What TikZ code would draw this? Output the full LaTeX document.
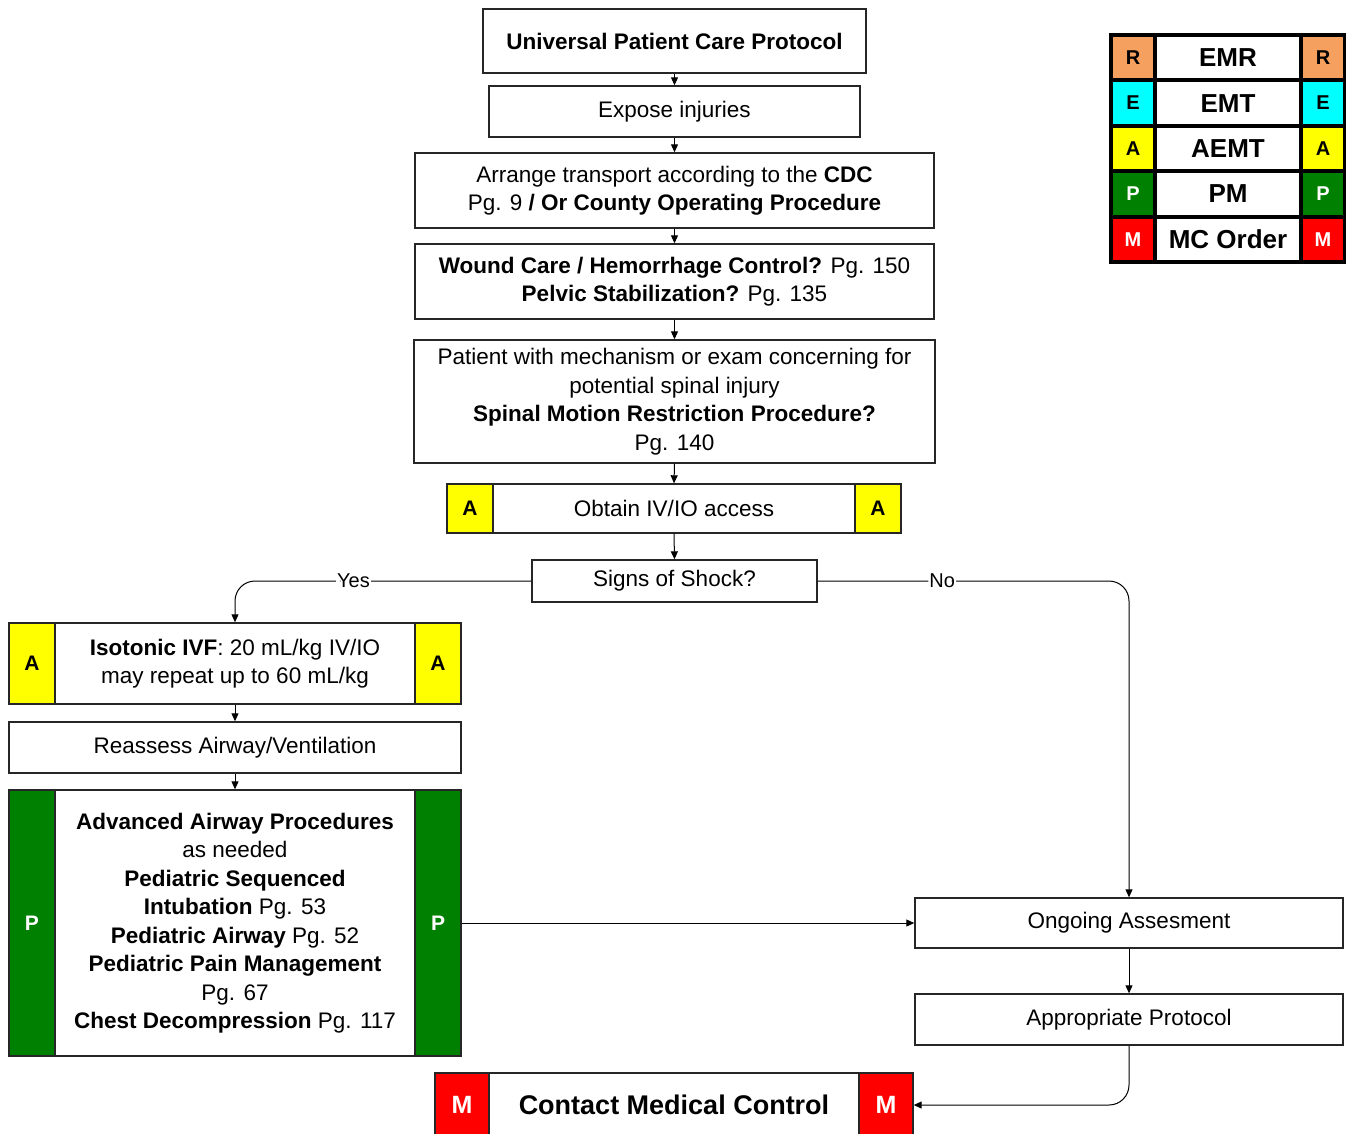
\documentclass[tikz,border=0pt]{standalone}
\usepackage{fontspec}
\setmainfont{Liberation Sans}
\usetikzlibrary{arrows.meta}
\definecolor{aY}{RGB}{255,255,0}
\definecolor{pG}{RGB}{0,128,0}
\definecolor{mR}{RGB}{255,0,0}
\definecolor{rO}{RGB}{245,160,95}
\definecolor{eC}{RGB}{0,255,255}
\begin{document}
\begin{tikzpicture}[x=1pt,y=-1pt,
  box/.style={draw=black!85, line width=1.4pt, fill=white, align=center, inner sep=0pt, font=\fontsize{22.5}{28.5}\selectfont},
  cell/.style={draw=black!85, line width=1.4pt, inner sep=0pt, font=\bfseries\fontsize{21}{25}\selectfont},
  conn/.style={line width=1pt, -{Triangle[length=8pt,width=7pt]}},
  lbl/.style={fill=white, inner sep=1pt, font=\fontsize{20}{24}\selectfont},
  leg/.style={draw=black, line width=4pt, inner sep=0pt, minimum height=45.4, font=\bfseries\fontsize{20}{24}\selectfont},
]
\useasboundingbox (0,0) rectangle (1346,1133);
\fill[white] (0,0) rectangle (1346,1133);

% main column
\node[box, minimum width=383, minimum height=64] (u) at (674.5,41) {\bfseries Universal Patient Care Protocol};
\node[box, minimum width=371, minimum height=51] (exp) at (674.5,111.5) {Expose injuries};
\node[box, minimum width=519, minimum height=75] (arr) at (674.5,190.5) {Arrange transport according to the \textbf{CDC}\\ Pg. 9 \textbf{/ Or County Operating Procedure}};
\node[box, minimum width=519, minimum height=75] (wc) at (674.5,281.5) {\textbf{Wound Care / Hemorrhage Control?} Pg. 150\\ \textbf{Pelvic Stabilization?} Pg. 135};
\node[box, minimum width=521, minimum height=123] (sp) at (674.5,401.5) {Patient with mechanism or exam concerning for\\ potential spinal injury\\ \textbf{Spinal Motion Restriction Procedure?}\\ Pg. 140};
\node[box, minimum width=454, minimum height=49] (iv) at (674,508.5) {Obtain IV/IO access};
\node[cell, fill=aY, minimum width=46, minimum height=49] (ivl) at (470,508.5) {A};
\node[cell, fill=aY, minimum width=46, minimum height=49] (ivr) at (878,508.5) {A};
\node[box, minimum width=285, minimum height=42] (shock) at (674.5,581) {Signs of Shock?};

% left branch
\node[box, minimum width=452, minimum height=81] (iso) at (235,663.5) {\textbf{Isotonic IVF}: 20 mL/kg IV/IO\\ may repeat up to 60 mL/kg};
\node[cell, fill=aY, minimum width=46, minimum height=81] (isol) at (32,663.5) {A};
\node[cell, fill=aY, minimum width=46, minimum height=81] (isor) at (438,663.5) {A};
\node[box, minimum width=452, minimum height=51] (re) at (235,747.5) {Reassess Airway/Ventilation};
\node[box, minimum width=452, minimum height=266] (adv) at (235,923) {\textbf{Advanced Airway Procedures}\\ as needed\\ \textbf{Pediatric Sequenced}\\ \textbf{Intubation} Pg. 53\\ \textbf{Pediatric Airway} Pg. 52\\ \textbf{Pediatric Pain Management}\\ Pg. 67\\ \textbf{Chest Decompression} Pg. 117};
\node[cell, fill=pG, text=white, minimum width=46, minimum height=266] (advl) at (32,923) {P};
\node[cell, fill=pG, text=white, minimum width=46, minimum height=266] (advr) at (438,923) {P};

% right branch
\node[box, minimum width=428, minimum height=50] (og) at (1129,923) {Ongoing Assesment};
\node[box, minimum width=428, minimum height=51] (ap) at (1129,1019.5) {Appropriate Protocol};

% bottom
\node[box, minimum width=478, minimum height=64, font=\bfseries\fontsize{27}{32}\selectfont] (cmc) at (674,1105) {Contact Medical Control};
\node[cell, fill=mR, text=white, minimum width=54, minimum height=64, font=\bfseries\fontsize{25}{30}\selectfont] (cmcl) at (462,1105) {M};
\node[cell, fill=mR, text=white, minimum width=54, minimum height=64, font=\bfseries\fontsize{25}{30}\selectfont] (cmcr) at (886,1105) {M};

% connectors
\draw[conn] (u.south) -- (exp.north);
\draw[conn] (exp.south) -- (arr.north);
\draw[conn] (arr.south) -- (wc.north);
\draw[conn] (wc.south) -- (sp.north);
\draw[conn] (sp.south) -- (iv.north);
\draw[conn] (iv.south) -- (shock.north);
\draw[conn, rounded corners=20] (shock.west) -- node[lbl, pos=0.6] {Yes} (shock.west -| iso.north) -- (iso.north);
\draw[conn, rounded corners=20] (shock.east) -- node[lbl, pos=0.4] {No} (shock.east -| og.north) -- (og.north);
\draw[conn] (iso.south) -- (re.north);
\draw[conn] (re.south) -- (adv.north);
\draw[conn] (adv.east) -- (og.west);
\draw[conn] (og.south) -- (ap.north);
\draw[conn, rounded corners=20] (ap.south) -- (ap.south |- cmc.east) -- (cmc.east);

% legend
\node[leg, fill=rO, minimum width=44] (l1a) at (1133,57.7) {R};
\node[leg, fill=white, minimum width=146, font=\bfseries\fontsize{26}{30}\selectfont] (l1b) at (1228,57.7) {EMR};
\node[leg, fill=rO, minimum width=44] (l1c) at (1323,57.7) {R};
\node[leg, fill=eC, minimum width=44] (l2a) at (1133,103.1) {E};
\node[leg, fill=white, minimum width=146, font=\bfseries\fontsize{26}{30}\selectfont] (l2b) at (1228,103.1) {EMT};
\node[leg, fill=eC, minimum width=44] (l2c) at (1323,103.1) {E};
\node[leg, fill=aY, minimum width=44] (l3a) at (1133,148.5) {A};
\node[leg, fill=white, minimum width=146, font=\bfseries\fontsize{26}{30}\selectfont] (l3b) at (1228,148.5) {AEMT};
\node[leg, fill=aY, minimum width=44] (l3c) at (1323,148.5) {A};
\node[leg, fill=pG, text=white, minimum width=44] (l4a) at (1133,193.9) {P};
\node[leg, fill=white, minimum width=146, font=\bfseries\fontsize{26}{30}\selectfont] (l4b) at (1228,193.9) {PM};
\node[leg, fill=pG, text=white, minimum width=44] (l4c) at (1323,193.9) {P};
\node[leg, fill=mR, text=white, minimum width=44] (l5a) at (1133,239.3) {M};
\node[leg, fill=white, minimum width=146, font=\bfseries\fontsize{26}{30}\selectfont] (l5b) at (1228,239.3) {MC Order};
\node[leg, fill=mR, text=white, minimum width=44] (l5c) at (1323,239.3) {M};
\end{tikzpicture}
\end{document}
